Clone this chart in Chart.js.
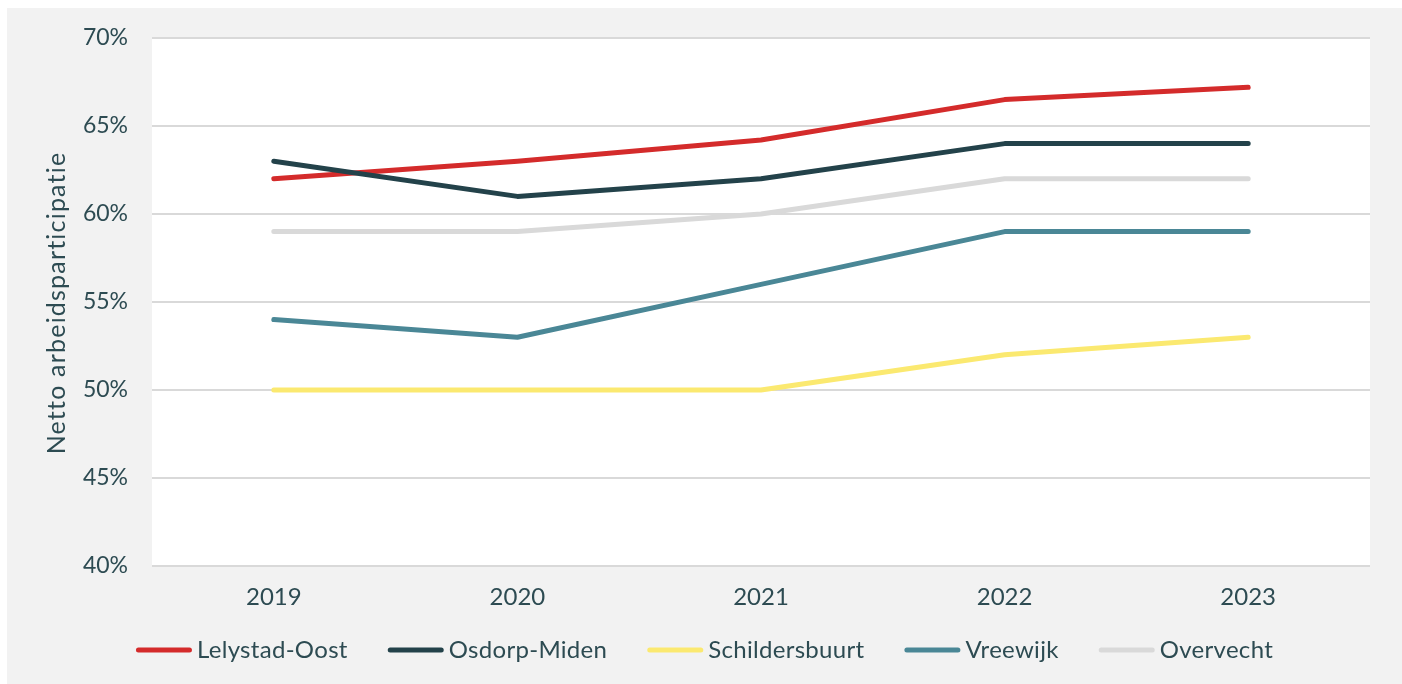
<!DOCTYPE html>
<html>
<head>
<meta charset="utf-8">
<script src="https://cdn.jsdelivr.net/npm/chart.js@4.4.1/dist/chart.umd.min.js"></script>
<style>
html,body{margin:0;padding:0;background:#ffffff;}
#wrap{position:relative;width:1402px;height:684px;}
</style>
</head>
<body>
<div id="wrap"><canvas id="c" width="1402" height="684"></canvas></div>
<script>
const categories = ['2019', '2020', '2021', '2022', '2023'];
const seriesNames = ['Lelystad-Oost', 'Osdorp-Miden', 'Schildersbuurt', 'Vreewijk', 'Overvecht'];
const lelystadOost = [62, 63, 64.2, 66.5, 67.2];
const osdorpMiden = [63, 61, 62, 64, 64];
const schildersbuurt = [50, 50, 50, 52, 53];
const vreewijk = [54, 53, 56, 59, 59];
const overvecht = [59, 59, 60, 62, 62];
const yTicks = [40, 45, 50, 55, 60, 65, 70];
const yTitle = 'Netto arbeidsparticipatie';

const colors = ['#d42b2b', '#23424a', '#fbe970', '#4a8796', '#d9d9d9'];
const seriesValues = [lelystadOost, osdorpMiden, schildersbuurt, vreewijk, overvecht];
const textColor = '#2d4b52';
const fontFamily = 'Lato, "Open Sans", sans-serif';

const bgPlugin = {
  id: 'bg',
  beforeDraw(chart) {
    const ctx = chart.ctx;
    ctx.save();
    ctx.fillStyle = '#f2f2f2';
    ctx.fillRect(7, 8, chart.width - 7, chart.height - 8);
    const a = chart.chartArea;
    ctx.fillStyle = '#ffffff';
    ctx.fillRect(a.left, a.top, a.right - a.left, a.bottom - a.top);
    ctx.restore();
  }
};

const titlePlugin = {
  id: 'yTitle',
  afterDraw(chart) {
    const ctx = chart.ctx;
    ctx.save();
    ctx.font = '25px ' + fontFamily;
    if ('letterSpacing' in ctx) ctx.letterSpacing = '1.2px';
    ctx.fillStyle = textColor;
    ctx.textAlign = 'center';
    ctx.textBaseline = 'middle';
    ctx.translate(57, 303);
    ctx.rotate(-Math.PI / 2);
    ctx.fillText(yTitle, 0, 0);
    ctx.restore();
  }
};

const legendPlugin = {
  id: 'customLegend',
  afterDraw(chart) {
    const ctx = chart.ctx;
    ctx.save();
    ctx.font = '24px ' + fontFamily;
    if ('letterSpacing' in ctx) ctx.letterSpacing = '0.3px';
    const sample = 56, gap = 5, spacing = 40;
    const items = chart.data.datasets.map(d => ({ label: d.label, color: d.borderColor, w: ctx.measureText(d.label).width }));
    let total = 0;
    items.forEach((it, i) => { total += sample + gap + it.w + (i < items.length - 1 ? spacing : 0); });
    let x = (7 + chart.width) / 2 - total / 2;
    const y = 650;
    items.forEach(it => {
      ctx.strokeStyle = it.color;
      ctx.lineWidth = 5;
      ctx.lineCap = 'round';
      ctx.beginPath();
      ctx.moveTo(x + 2.5, y);
      ctx.lineTo(x + sample - 2.5, y);
      ctx.stroke();
      ctx.fillStyle = textColor;
      ctx.textBaseline = 'middle';
      ctx.textAlign = 'left';
      ctx.fillText(it.label, x + sample + gap, y);
      x += sample + gap + it.w + spacing;
    });
    ctx.restore();
  }
};

new Chart(document.getElementById('c'), {
  type: 'line',
  data: {
    labels: categories,
    datasets: seriesNames.map((n, i) => ({
      label: n,
      data: seriesValues[i],
      borderColor: colors[i],
      backgroundColor: colors[i],
      borderWidth: 5,
      borderCapStyle: 'round',
      borderJoinStyle: 'round',
      pointRadius: 0,
      pointHoverRadius: 0,
      tension: 0,
      fill: false,
      order: i === 1 ? 0 : 1
    }))
  },
  options: {
    responsive: false,
    animation: false,
    events: [],
    layout: { padding: { top: 38, right: 32, bottom: 0, left: 0 } },
    plugins: { legend: { display: false }, tooltip: { enabled: false } },
    scales: {
      x: {
        offset: true,
        grid: { display: false, drawTicks: false },
        border: { display: false },
        ticks: { color: textColor, font: { family: fontFamily, size: 24 }, padding: 17 },
        afterFit(s) { s.height = 118; }
      },
      y: {
        min: 40, max: 70,
        afterBuildTicks(s) { s.ticks = yTicks.map(v => ({ value: v })); },
        grid: { color: '#d9d9d9', lineWidth: 2, drawTicks: false },
        border: { display: false },
        ticks: { color: textColor, font: { family: fontFamily, size: 23 }, padding: 24, callback: v => v + '%' },
        afterFit(s) { s.width = 152; }
      }
    }
  },
  plugins: [bgPlugin, titlePlugin, legendPlugin]
});
</script>
</body>
</html>
